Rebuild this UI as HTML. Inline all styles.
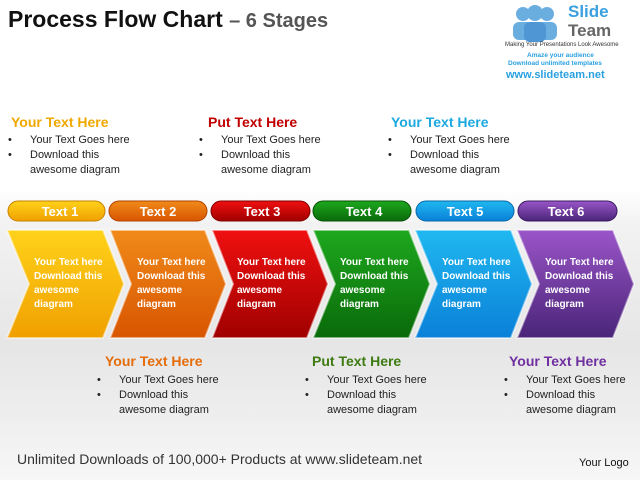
<!DOCTYPE html>
<html><head><meta charset="utf-8"><style>
body{margin:0;width:640px;height:480px;overflow:hidden;font-family:"Liberation Sans",sans-serif;}
#bg{position:absolute;left:0;top:0;width:640px;height:480px;background:linear-gradient(#fff 0,#fff 190px,#f2f2f2 225px,#e6e6e6 345px,#ececec 400px,#f7f7f7 480px);}
.a{position:absolute;white-space:nowrap;}
.h{font-weight:bold;font-size:14px;}
ul{margin:0;padding:0;list-style:none;font-size:11px;color:#222;line-height:15px;}
li{position:relative;padding-left:22px;}
li.b:before{content:"•";position:absolute;left:0;}
</style></head><body>
<div id="bg"></div>
<div class="a" style="left:8px;top:6px;font-size:23px;font-weight:bold;color:#111;">Process Flow Chart <span style="color:#555;font-size:20px;">– 6 Stages</span></div>
<svg class="a" style="left:510px;top:2px" width="50" height="40"><g fill="#6aaee0"><circle cx="13" cy="12" r="7"/><circle cx="37" cy="12" r="7"/><circle cx="25" cy="11" r="8"/><rect x="3" y="20" width="20" height="18" rx="6"/><rect x="27" y="20" width="20" height="18" rx="6"/><rect x="14" y="20" width="22" height="20" rx="6" fill="#4f96d4"/></g></svg>
<div class="a" style="left:568px;top:2px;font-size:17px;font-weight:bold;color:#3aa0e0;">Slide</div>
<div class="a" style="left:568px;top:21px;font-size:17px;font-weight:bold;color:#666;">Team</div>
<div class="a" style="left:505px;top:42px;font-size:6px;color:#333;">Making Your Presentations Look Awesome</div>
<div class="a" style="left:527px;top:52px;font-size:6.5px;font-weight:bold;color:#2aa0e0;">Amaze your audience</div>
<div class="a" style="left:508px;top:60px;font-size:6.5px;font-weight:bold;color:#2aa0e0;">Download unlimited templates</div>
<div class="a" style="left:506px;top:69px;font-size:11px;font-weight:bold;color:#2aa0e0;">www.slideteam.net</div>

<div class="a h" style="left:11px;top:114px;color:#f0a800;">Your Text Here</div>
<ul class="a" style="left:8px;top:133px;"><li class="b">Your Text Goes here</li><li class="b">Download this</li><li>awesome diagram</li></ul>
<div class="a h" style="left:208px;top:114px;color:#c00000;">Put Text Here</div>
<ul class="a" style="left:199px;top:133px;"><li class="b">Your Text Goes here</li><li class="b">Download this</li><li>awesome diagram</li></ul>
<div class="a h" style="left:391px;top:114px;color:#1ba9e0;">Your Text Here</div>
<ul class="a" style="left:388px;top:133px;"><li class="b">Your Text Goes here</li><li class="b">Download this</li><li>awesome diagram</li></ul>

<svg class="a" style="left:0;top:195px" width="640" height="150">
<defs>
<linearGradient id="g1" x1="0" y1="0" x2="0" y2="1"><stop offset="0" stop-color="#ffd21a"/><stop offset="1" stop-color="#f0a000"/></linearGradient>
<linearGradient id="g2" x1="0" y1="0" x2="0" y2="1"><stop offset="0" stop-color="#f08a1a"/><stop offset="1" stop-color="#d85500"/></linearGradient>
<linearGradient id="g3" x1="0" y1="0" x2="0" y2="1"><stop offset="0" stop-color="#f01010"/><stop offset="1" stop-color="#a00000"/></linearGradient>
<linearGradient id="g4" x1="0" y1="0" x2="0" y2="1"><stop offset="0" stop-color="#1ea81e"/><stop offset="1" stop-color="#0a6a0a"/></linearGradient>
<linearGradient id="g5" x1="0" y1="0" x2="0" y2="1"><stop offset="0" stop-color="#20b8f0"/><stop offset="1" stop-color="#0a80d8"/></linearGradient>
<linearGradient id="g6" x1="0" y1="0" x2="0" y2="1"><stop offset="0" stop-color="#9a55c8"/><stop offset="1" stop-color="#4a2578"/></linearGradient>
</defs>
<g font-family="Liberation Sans,sans-serif" font-weight="bold" font-size="13" fill="#fff" text-anchor="middle">
<rect x="8" y="6" width="97" height="20" rx="10" fill="url(#g1)" stroke="#c88000"/><text x="60" y="21">Text 1</text>
<rect x="109" y="6" width="98" height="20" rx="10" fill="url(#g2)" stroke="#b04400"/><text x="158" y="21">Text 2</text>
<rect x="211" y="6" width="99" height="20" rx="10" fill="url(#g3)" stroke="#800000"/><text x="262" y="21">Text 3</text>
<rect x="313" y="6" width="98" height="20" rx="10" fill="url(#g4)" stroke="#065006"/><text x="364" y="21">Text 4</text>
<rect x="416" y="6" width="98" height="20" rx="10" fill="url(#g5)" stroke="#0868a8"/><text x="465" y="21">Text 5</text>
<rect x="518" y="6" width="99" height="20" rx="10" fill="url(#g6)" stroke="#3a1a60"/><text x="566" y="21">Text 6</text>
</g>
<g stroke="#fff" stroke-width="2" stroke-opacity="0.5">
<polygon points="7,35 103,35 124,89 103,143 7,143 29,89" fill="url(#g1)"/>
<polygon points="110,35 205,35 226,89 205,143 110,143 131,89" fill="url(#g2)"/>
<polygon points="212,35 307,35 328,89 307,143 212,143 233,89" fill="url(#g3)"/>
<polygon points="313,35 409,35 430,89 409,143 313,143 335,89" fill="url(#g4)"/>
<polygon points="415,35 511,35 532,89 511,143 415,143 437,89" fill="url(#g5)"/>
<polygon points="517,35 613,35 634,89 613,143 517,143 539,89" fill="url(#g6)"/>
</g>
<g font-family="Liberation Sans,sans-serif" font-weight="bold" font-size="10" fill="#fff">
<text x="34" y="70">Your Text here</text><text x="34" y="84">Download this</text><text x="34" y="98">awesome</text><text x="34" y="112">diagram</text>
<text x="137" y="70">Your Text here</text><text x="137" y="84">Download this</text><text x="137" y="98">awesome</text><text x="137" y="112">diagram</text>
<text x="237" y="70">Your Text here</text><text x="237" y="84">Download this</text><text x="237" y="98">awesome</text><text x="237" y="112">diagram</text>
<text x="340" y="70">Your Text here</text><text x="340" y="84">Download this</text><text x="340" y="98">awesome</text><text x="340" y="112">diagram</text>
<text x="442" y="70">Your Text here</text><text x="442" y="84">Download this</text><text x="442" y="98">awesome</text><text x="442" y="112">diagram</text>
<text x="545" y="70">Your Text here</text><text x="545" y="84">Download this</text><text x="545" y="98">awesome</text><text x="545" y="112">diagram</text>
</g>
</svg>

<div class="a h" style="left:105px;top:353px;color:#e46c0a;">Your Text Here</div>
<ul class="a" style="left:97px;top:373px;"><li class="b">Your Text Goes here</li><li class="b">Download this</li><li>awesome diagram</li></ul>
<div class="a h" style="left:312px;top:353px;color:#3e7b12;">Put Text Here</div>
<ul class="a" style="left:305px;top:373px;"><li class="b">Your Text Goes here</li><li class="b">Download this</li><li>awesome diagram</li></ul>
<div class="a h" style="left:509px;top:353px;color:#7030a0;">Your Text Here</div>
<ul class="a" style="left:504px;top:373px;"><li class="b">Your Text Goes here</li><li class="b">Download this</li><li>awesome diagram</li></ul>

<div class="a" style="left:17px;top:451px;font-size:14px;color:#333;">Unlimited Downloads of 100,000+ Products at www.slideteam.net</div>
<div class="a" style="left:579px;top:457px;font-size:11px;color:#111;">Your Logo</div>
</body></html>
